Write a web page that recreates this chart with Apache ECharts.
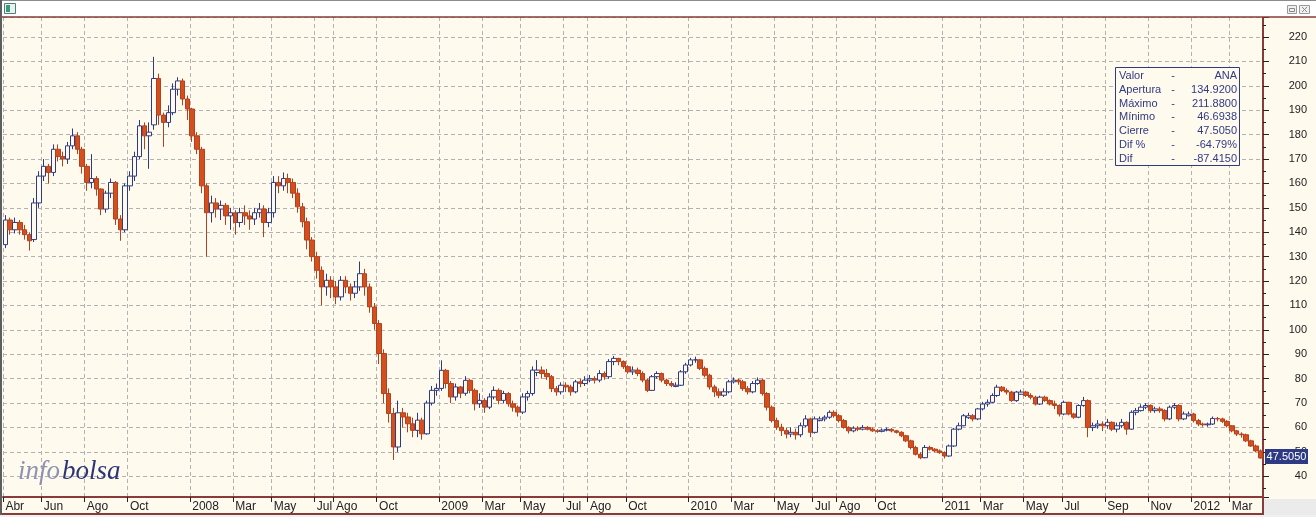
<!DOCTYPE html>
<html>
<head>
<meta charset="utf-8">
<title>ANA</title>
<script src="https://cdn.jsdelivr.net/npm/echarts@6/dist/echarts.min.js"></script>
<style>
  html, body { margin: 0; padding: 0; background: #fffaee; }
  #chart { width: 1316px; height: 517px; }
</style>
</head>
<body>
<div id="chart"></div>
<script>
// weekly candles, first week ends Friday 2007-04-06
const firstFriday = Date.UTC(2007, 3, 6);
const monthNames = ["Ene", "Feb", "Mar", "Abr", "May", "Jun", "Jul", "Ago", "Sep", "Oct", "Nov", "Dic"];
const tickMonths = [
  "2007-04", "2007-06", "2007-08", "2007-10", "2008-01", "2008-03", "2008-05", "2008-07", "2008-08", "2008-10",
  "2009-01", "2009-03", "2009-05", "2009-07", "2009-08", "2009-10", "2010-01", "2010-03", "2010-05", "2010-07",
  "2010-08", "2010-10", "2011-01", "2011-03", "2011-05", "2011-07", "2011-09", "2011-11", "2012-01", "2012-03"
];

const opens = [
  134.92, 145, 141, 144, 141, 139, 137, 152, 163, 167,
  164.5, 174, 171, 170, 175.4, 179.5, 174, 167, 160.4, 162,
  157.7, 149.5, 156, 160.4, 145.4, 141, 159, 163, 171, 183.6,
  179.5, 184, 203, 188, 185, 189, 198.6, 202, 194.6, 190.5,
  179.5, 174, 159, 148, 152, 149.5, 151, 146.7, 148, 144,
  148, 146.7, 145.4, 148, 149.5, 144, 148, 160.4, 159, 162,
  160.4, 156, 150.4, 144.3, 136.8, 130, 124.4, 117.6, 120.3, 117.6,
  113.5, 120.3, 117.6, 115, 117.6, 123, 117.6, 109.4, 102.6, 90.3,
  73.9, 65.7, 52, 66, 64.3, 61.5, 58.8, 63, 57.4, 70,
  75.2, 76, 83.4, 78, 72.5, 76.6, 74, 79.3, 75.2, 69.7,
  71.1, 68.3, 72.5, 75.2, 71.1, 73.9, 69.7, 68.3, 66.3, 72.5,
  73.9, 82.5, 83.5, 82.1, 80.8, 75.9, 74.6, 77.3, 76.6, 74.6,
  78.7, 78, 79.4, 80, 79.4, 82.1, 80.8, 87, 88.3, 87,
  84.9, 82.8, 83.5, 82.1, 79.4, 75.2, 80.8, 82.1, 79.4, 78,
  76.8, 77.3, 82.8, 85.6, 87.7, 87.7, 84.2, 81.4, 76.6, 74.6,
  73.2, 74.6, 78.7, 79.4, 78.7, 75.9, 74.6, 78, 79.4, 73.9,
  68.3, 62.8, 60.1, 58.7, 57.3, 58, 57, 60.7, 63.5, 58,
  62.8, 63.5, 64.2, 66.2, 64.8, 62.8, 60, 58.6, 59.7, 59.3,
  60, 59.3, 58.6, 58.4, 58.9, 59.2, 58.6, 58, 56.6, 54.5,
  51.8, 49, 47.6, 51.8, 51.1, 50.4, 49.7, 48.3, 52.4, 59.3,
  60.7, 64, 64.8, 63.5, 67.6, 69.6, 70.3, 73.1, 76.5, 75.1,
  74.5, 71, 73.6, 74.5, 73.1, 72.4, 69.6, 72.4, 71, 69.6,
  69, 65.5, 70.3, 65.5, 64.2, 69, 71, 60, 60.7, 61.4,
  60.7, 62.1, 59.3, 60.7, 62.1, 59.3, 66.2, 66.9, 68.3, 69,
  66.9, 67.6, 66.9, 63.5, 68.3, 69, 63.5, 64.8, 65.5, 62.8,
  61.4, 61.1, 61.4, 63.7, 63.5, 62.5, 60.7, 58.6, 57.3, 57,
  54.5, 52.4, 50.4
];
const closes = [
  145, 141, 144, 141, 139, 136.5, 152, 163, 167, 164.5,
  174, 171, 170, 175.4, 179.5, 174, 167, 160.4, 162, 157.7,
  149.5, 156, 160.4, 145.4, 141, 159, 163, 171, 183.6, 179.5,
  181, 203, 188, 185, 189, 198.6, 202, 194.6, 190.5, 179.5,
  174, 159, 148, 152, 149.5, 151, 146.7, 148, 144, 148,
  146.7, 145.4, 148, 149.5, 144, 148, 160.4, 159, 162, 160.4,
  156, 150.4, 144.3, 136.8, 130, 124.4, 117.6, 120.3, 117.6, 113.5,
  120.3, 117.6, 115, 117.6, 123, 117.6, 109.4, 102.6, 90.3, 73.9,
  65.7, 52, 66, 64.3, 61.5, 58.8, 63, 57.4, 70, 75.2,
  76, 83.4, 78, 72.5, 76.6, 74, 79.3, 75.2, 69.7, 71.1,
  68.3, 72.5, 75.2, 71.1, 73.9, 69.7, 68.3, 66.3, 72.5, 73.9,
  83.5, 83.5, 82.1, 80.8, 75.9, 74.6, 77.3, 76.6, 74.6, 78.7,
  78, 79.4, 80, 79.4, 82.1, 80.8, 87, 88.3, 87, 84.9,
  82.8, 83.5, 82.1, 79.4, 75.2, 80.8, 82.1, 79.4, 78, 77.3,
  77.3, 82.8, 85.6, 87.7, 87.7, 84.2, 81.4, 76.6, 74.6, 73.2,
  74.6, 78.7, 79.4, 78.7, 75.9, 74.6, 78, 79.4, 73.9, 68.3,
  62.8, 60.1, 58.7, 57.3, 58, 57, 60.7, 63.5, 58, 63.5,
  63.5, 64.2, 66.2, 64.8, 62.8, 60, 58.6, 59.7, 59.3, 60,
  59.3, 58.6, 58.4, 58.9, 59.2, 58.6, 58, 56.6, 54.5, 51.8,
  49, 47.6, 51.8, 51.1, 50.4, 49.7, 48.3, 52.4, 59.3, 60.7,
  64.8, 64.8, 63.5, 67.6, 69.6, 70.3, 73.1, 76.5, 75.1, 74.5,
  71, 74.5, 74.5, 73.1, 72.4, 69.6, 72.4, 71, 69.6, 69,
  65.5, 70.3, 65.5, 64.2, 69, 71, 60, 60.7, 61.4, 60.7,
  62.1, 59.3, 60.7, 62.1, 59.3, 66.2, 66.9, 68.3, 69, 66.9,
  67.6, 66.9, 63.5, 68.3, 69, 63.5, 65.5, 65.5, 62.8, 61.4,
  61.1, 61.4, 63.7, 63.5, 62.5, 60.7, 58.6, 57.3, 57, 54.5,
  52.4, 50.4, 47.505
];
const lows = [
  133.5, 139, 139.5, 139, 137, 132.5, 136, 150, 161, 160,
  163, 169, 167, 168, 174, 172, 164, 157, 158, 155,
  147, 148, 154, 143, 136.5, 140, 157, 161, 170, 174,
  166, 182, 184, 175, 183, 188, 196, 192, 186, 177,
  172, 156, 130, 144, 146, 145, 143, 141, 139, 142,
  143, 141, 143, 146, 138, 142, 146, 156, 157, 156,
  154, 148, 142, 133, 128, 121, 110, 114, 113, 110.5,
  112, 115, 112, 113, 116, 114, 107, 100, 86, 70,
  62, 46.69, 50, 60, 58, 56, 56, 55, 57, 69,
  73, 75, 76, 70, 71, 72, 73, 74, 67, 68,
  66, 67.5, 71.5, 69.5, 70, 68.5, 66.5, 64.5, 65.5, 71,
  73, 81, 80, 79.5, 74.5, 73, 73.5, 74.5, 73, 74,
  76.5, 77, 78.5, 78, 78.5, 79.5, 80, 85.5, 85.5, 84,
  82, 81.5, 81, 78.5, 74.5, 75, 80, 78.5, 77, 76.5,
  76.5, 77, 82, 85, 86.5, 83.5, 80.5, 75.5, 72.5, 72,
  72.5, 74, 78, 77.5, 75, 73.5, 74, 77.5, 73, 67,
  62, 59, 56.5, 55.5, 56, 55, 56, 60, 56, 57.5,
  62.5, 62.5, 63.5, 64, 62, 59.5, 57.5, 58, 58.5, 58.8,
  58.8, 58.2, 57.8, 58, 58.4, 58, 57.5, 56, 54, 51,
  48.5, 47, 47.4, 50.5, 49.8, 49.2, 47.3, 48, 52, 58.8,
  60.5, 63.5, 62.5, 63, 67, 68.5, 70, 72.5, 74.5, 73.5,
  70.5, 70.5, 73.5, 72.5, 71.5, 69, 69.2, 70.5, 69, 67.5,
  64.5, 65, 65, 63.5, 63.8, 68.5, 56, 58.5, 59.5, 58.5,
  59.5, 58.5, 58, 59.8, 57, 59, 65, 66.5, 67.5, 66,
  66, 66, 62.5, 63, 67.5, 62.5, 63, 64.5, 62, 60.5,
  60.3, 60.3, 61, 62.5, 61.8, 60, 58, 56.5, 55.8, 54,
  52, 49.8, 47.2
];
const highs = [
  147, 146, 146, 145, 143, 140, 154, 165, 170, 168,
  176, 176, 173, 177, 182.5, 181, 175, 168, 172, 163,
  158, 157, 162, 161, 147, 160, 165, 173, 186, 185,
  185, 211.88, 205, 189, 192, 201, 203.5, 203, 196, 191,
  181, 175, 160, 155, 154, 153, 152, 150, 149, 150,
  151, 149, 150, 152, 151, 150, 163, 163, 164.5, 164,
  162, 158, 152, 146, 138, 132, 126, 123, 122, 120,
  122, 122, 119, 120, 128, 125, 119, 111, 104, 92,
  76, 68, 71, 68, 66, 64, 66, 64, 71, 77,
  78, 87.5, 84, 79, 78, 77, 81, 80, 76, 74,
  72, 74, 76.8, 76, 75, 74.5, 71, 69, 74, 75,
  85, 87.6, 85, 84, 81.5, 77, 78.5, 78.5, 77.5, 79.5,
  80, 81, 81.5, 81, 83.5, 83, 88, 89.3, 88.5, 87.5,
  85.5, 85, 84.5, 83, 80, 81.5, 83, 82.5, 80, 79,
  78.5, 83.5, 86.5, 88.5, 89, 88, 85, 82, 77.5, 76,
  76, 79.5, 80.5, 80, 79.5, 77, 79, 80.5, 80, 74.5,
  69, 64, 61.5, 60, 60, 59.5, 62, 65, 64, 64.5,
  64.5, 65, 67, 67, 65.5, 63.5, 60.5, 60.5, 60.5, 61,
  60.6, 60, 59.3, 59.6, 60, 59.7, 59, 58.5, 57, 55,
  52.5, 49.8, 52.8, 52.5, 51.5, 51, 50.2, 53, 59.8, 62,
  65.5, 66, 65.5, 68, 70.5, 71.5, 74, 77.5, 77, 76,
  75, 75, 75.5, 75, 74, 73, 73, 73, 71.5, 71,
  69.5, 71, 70.5, 66, 69.5, 72.5, 71.5, 62, 63, 62.5,
  63.5, 62.5, 62, 63.5, 62.5, 67, 68, 69.5, 70, 69.5,
  68.5, 68.5, 67.5, 69, 70, 69.5, 66.5, 66.5, 66, 63.5,
  62, 62, 64.5, 64.3, 64, 63, 61, 59, 58, 57.5,
  55, 53, 51
];

const infoLabels = ["Valor", "Apertura", "Máximo", "Mínimo", "Cierre", "Dif %", "Dif"];
const infoValues = ["ANA", "134.9200", "211.8800", "46.6938", "47.5050", "-64.79%", "-87.4150"];
const lastPrice = "47.5050";

const bg = "#fffaee";
const frameRed = "#8b3a3a";
const navy = "#2f3a85";
const gridColor = "#b2b2b2";

// week-ending dates for the category axis
const weeks = closes.map((c, i) => new Date(firstFriday + i * 7 * 86400000).toISOString().slice(0, 10));
const tickIdx = new Set(tickMonths.map(m => weeks.findIndex(w => w.slice(0, 7) === m)).filter(i => i >= 0));
const showTick = idx => tickIdx.has(idx);

const candles = closes.map((c, i) => [opens[i], c, lows[i], highs[i]]);

const chart = echarts.init(document.getElementById("chart"));

const elements = [
  // window title bar
  { type: "rect", shape: { x: 0, y: 0, width: 1316, height: 17 }, style: { fill: "#ffffff" }, z: 20 },
  { type: "line", shape: { x1: 0, y1: 0.5, x2: 1316, y2: 0.5 }, style: { stroke: "#8c8c8c", lineWidth: 1 }, z: 21 },
  { type: "rect", shape: { x: 4.5, y: 3.5, width: 11, height: 10 }, style: { fill: "#e9f2ee", stroke: "#4d7f76", lineWidth: 1 }, z: 21 },
  { type: "rect", shape: { x: 6, y: 5, width: 4, height: 7 }, style: { fill: "#3c9a7c" }, z: 22 },
  { type: "rect", shape: { x: 1287.5, y: 5.5, width: 9, height: 8 }, style: { fill: "#f1f1f1", stroke: "#9a9a9a", lineWidth: 1 }, z: 21 },
  { type: "rect", shape: { x: 1289.5, y: 8.5, width: 5, height: 3 }, style: { fill: "none", stroke: "#8a8a8a", lineWidth: 1 }, z: 22 },
  { type: "rect", shape: { x: 1299.5, y: 5.5, width: 10, height: 8 }, style: { fill: "#f1f1f1", stroke: "#9a9a9a", lineWidth: 1 }, z: 21 },
  { type: "line", shape: { x1: 1302, y1: 7, x2: 1307, y2: 12 }, style: { stroke: "#8a8a8a", lineWidth: 1 }, z: 22 },
  { type: "line", shape: { x1: 1307, y1: 7, x2: 1302, y2: 12 }, style: { stroke: "#8a8a8a", lineWidth: 1 }, z: 22 },
  // frame lines
  { type: "line", shape: { x1: 2, y1: 17, x2: 1316, y2: 17 }, style: { stroke: frameRed, lineWidth: 1.5 }, z: 21 },
  { type: "line", shape: { x1: 1, y1: 0, x2: 1, y2: 517 }, style: { stroke: "#5e5e5e", lineWidth: 2 }, z: 21 },
  { type: "line", shape: { x1: 2, y1: 514, x2: 1264, y2: 514 }, style: { stroke: frameRed, lineWidth: 2 }, z: 21 },
  { type: "line", shape: { x1: 1263, y1: 497, x2: 1263, y2: 515 }, style: { stroke: frameRed, lineWidth: 2 }, z: 21 },
  { type: "rect", shape: { x: 1264, y: 499, width: 52, height: 18 }, style: { fill: "#ebebeb" }, z: 21 },
  { type: "rect", shape: { x: 0, y: 515, width: 1316, height: 2 }, style: { fill: "#f0f0f0" }, z: 21 },
  // logo
  { type: "text", x: 18, y: 458, z: 10, style: { text: "info", fill: "#8e93b3", font: "italic 27px 'Liberation Serif', serif", verticalAlign: "top" } },
  { type: "text", x: 62, y: 458, z: 10, style: { text: "bolsa", fill: "#2d3575", font: "italic 27px 'Liberation Serif', serif", verticalAlign: "top" } },
  // info box
  { type: "rect", shape: { x: 1115.5, y: 67.5, width: 124, height: 98 }, style: { fill: bg, stroke: navy, lineWidth: 1 }, z: 10 }
];

infoLabels.forEach((label, i) => {
  const y = 76 + i * 13.8;
  const font = "11px 'Liberation Sans', Arial, sans-serif";
  elements.push({ type: "text", x: 1119, y: y, z: 11, style: { text: label, fill: navy, font: font, verticalAlign: "middle" } });
  elements.push({ type: "text", x: 1173, y: y, z: 11, style: { text: "-", fill: navy, font: font, align: "center", verticalAlign: "middle" } });
  elements.push({ type: "text", x: 1237, y: y, z: 11, style: { text: infoValues[i], fill: navy, font: font, align: "right", verticalAlign: "middle" } });
});

chart.setOption({
  animation: false,
  backgroundColor: bg,
  grid: { left: 3, right: 53, top: 17, bottom: 20, containLabel: false, outerBoundsMode: "none" },
  xAxis: {
    type: "category",
    data: weeks,
    boundaryGap: true,
    axisLine: { show: true, lineStyle: { color: frameRed, width: 2 } },
    axisTick: { show: true, interval: showTick, length: 5, lineStyle: { color: "#222" } },
    axisLabel: {
      interval: showTick,
      align: "left",
      margin: 4,
      fontSize: 12,
      fontFamily: "Liberation Sans",
      color: "#222",
      formatter: function (value) {
        const m = parseInt(value.slice(5, 7), 10);
        return m === 1 ? value.slice(0, 4) : monthNames[m - 1];
      }
    },
    splitLine: { show: true, interval: showTick, lineStyle: { color: gridColor, type: [4, 3] } }
  },
  yAxis: {
    type: "value",
    position: "right",
    min: 31.5,
    max: 228.2,
    splitNumber: 20,
    axisLine: { show: true, lineStyle: { color: frameRed, width: 2 } },
    axisTick: { show: true, length: 6, lineStyle: { color: "#222" } },
    minorTick: { show: true, splitNumber: 2, length: 3, lineStyle: { color: "#222" } },
    axisLabel: {
      align: "right",
      margin: 44,
      fontSize: 11,
      fontFamily: "Liberation Sans",
      color: "#222",
      showMinLabel: false,
      showMaxLabel: false
    },
    splitLine: { show: true, lineStyle: { color: gridColor, type: [4, 3] } }
  },
  series: [
    {
      name: "ANA",
      type: "candlestick",
      data: candles,
      barWidth: 5,
      itemStyle: {
        color: bg,
        color0: "#d44e1e",
        borderColor: navy,
        borderColor0: "#b3411d",
        borderWidth: 1
      }
    }
  ],
  graphic: { elements: elements }
});

// last price tag on the value axis
const lastY = chart.convertToPixel({ yAxisIndex: 0 }, closes[closes.length - 1]);
elements.push({ type: "rect", shape: { x: 1265, y: Math.round(lastY) - 9, width: 43, height: 15 }, style: { fill: navy }, z: 12 });
elements.push({ type: "text", x: 1286.5, y: Math.round(lastY) - 1.5, z: 13, style: { text: lastPrice, fill: "#ffffff", font: "11px 'Liberation Sans', Arial, sans-serif", align: "center", verticalAlign: "middle" } });
chart.setOption({ graphic: { elements: elements } }, { replaceMerge: ["graphic"] });
</script>
</body>
</html>
